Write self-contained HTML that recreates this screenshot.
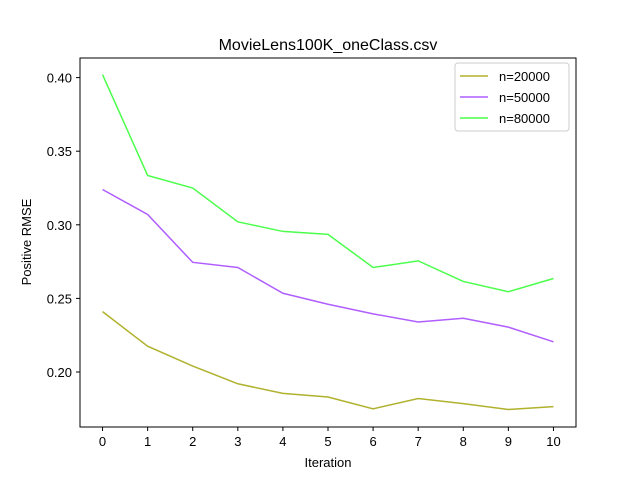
<!DOCTYPE html>
<html><head><meta charset="utf-8"><style>
body{margin:0;background:#fff;}
svg{font-family:"Liberation Sans","DejaVu Sans",sans-serif;}
</style></head><body>
<svg id="chart" width="640" height="480" viewBox="0 0 640 480">
<rect width="640" height="480" fill="#fff"/>
<text x="328" y="50" font-size="16" text-anchor="middle">MovieLens100K_oneClass.csv</text>
<g id="grid"></g>
<g id="series"></g>
<rect x="80" y="58" width="496" height="369" fill="none" stroke="#000" stroke-width="1"/>
<text x="328" y="467" font-size="13" text-anchor="middle">Iteration</text>
<text transform="translate(31,242) rotate(-90)" font-size="13" text-anchor="middle">Positive RMSE</text>
<g id="legend"></g>
</svg>
<script>
const iterations=[0,1,2,3,4,5,6,7,8,9,10];
const seriesNames=["n=20000","n=50000","n=80000"];
const seriesColors=["#b0b22e","#b05eff","#4cff4c"];
const s20000=[0.241,0.2175,0.204,0.192,0.1855,0.183,0.175,0.182,0.1785,0.1745,0.1765];
const s50000=[0.324,0.307,0.2745,0.271,0.2535,0.246,0.2395,0.234,0.2365,0.2305,0.2205];
const s80000=[0.402,0.3335,0.325,0.302,0.2955,0.2935,0.271,0.2755,0.2615,0.2545,0.2635];
const yTicks=[0.20,0.25,0.30,0.35,0.40];
const allSeries=[s20000,s50000,s80000];
const NS="http://www.w3.org/2000/svg";
const X=v=>80+(v+0.5)/11*496;
const Y=v=>372-(v-0.20)*1472;
function mk(t,a,p){const e=document.createElementNS(NS,t);for(const k in a)e.setAttribute(k,a[k]);p.appendChild(e);return e;}
const g=document.getElementById('grid');
iterations.forEach(i=>{
  const l=mk('line',{x1:X(i),x2:X(i),y1:427,y2:431,stroke:'#000'},g);
  
  
  const t=mk('text',{x:X(i),y:446,'font-size':13,'text-anchor':'middle'},g);t.textContent=i;
  
  
});
yTicks.forEach(v=>{
  const l=mk('line',{x1:76,x2:80,y1:Y(v),y2:Y(v),stroke:'#000'},g);
  
  
  const t=mk('text',{x:72,y:Y(v)+5,'font-size':13,'text-anchor':'end'},g);t.textContent=v.toFixed(2);
  
  
});
const sg=document.getElementById('series');
allSeries.forEach((s,k)=>{
  const p=mk('polyline',{points:s.map((v,i)=>X(iterations[i])+','+Y(v)).join(' '),fill:'none',stroke:seriesColors[k],'stroke-width':1.5},sg);
  
  
});
const lg=document.getElementById('legend');
const box=mk('rect',{x:455,y:63,width:114,height:68,rx:3,fill:'#fff',stroke:'#ccc'},lg);


seriesNames.forEach((n,k)=>{
  const y=76+k*21;
  const l=mk('line',{x1:460,x2:488,y1:y,y2:y,stroke:seriesColors[k],'stroke-width':1.5},lg);
  
  
  const t=mk('text',{x:499,y:y+5,'font-size':13},lg);t.textContent=n;
  
  
});
</script>
</body></html>
